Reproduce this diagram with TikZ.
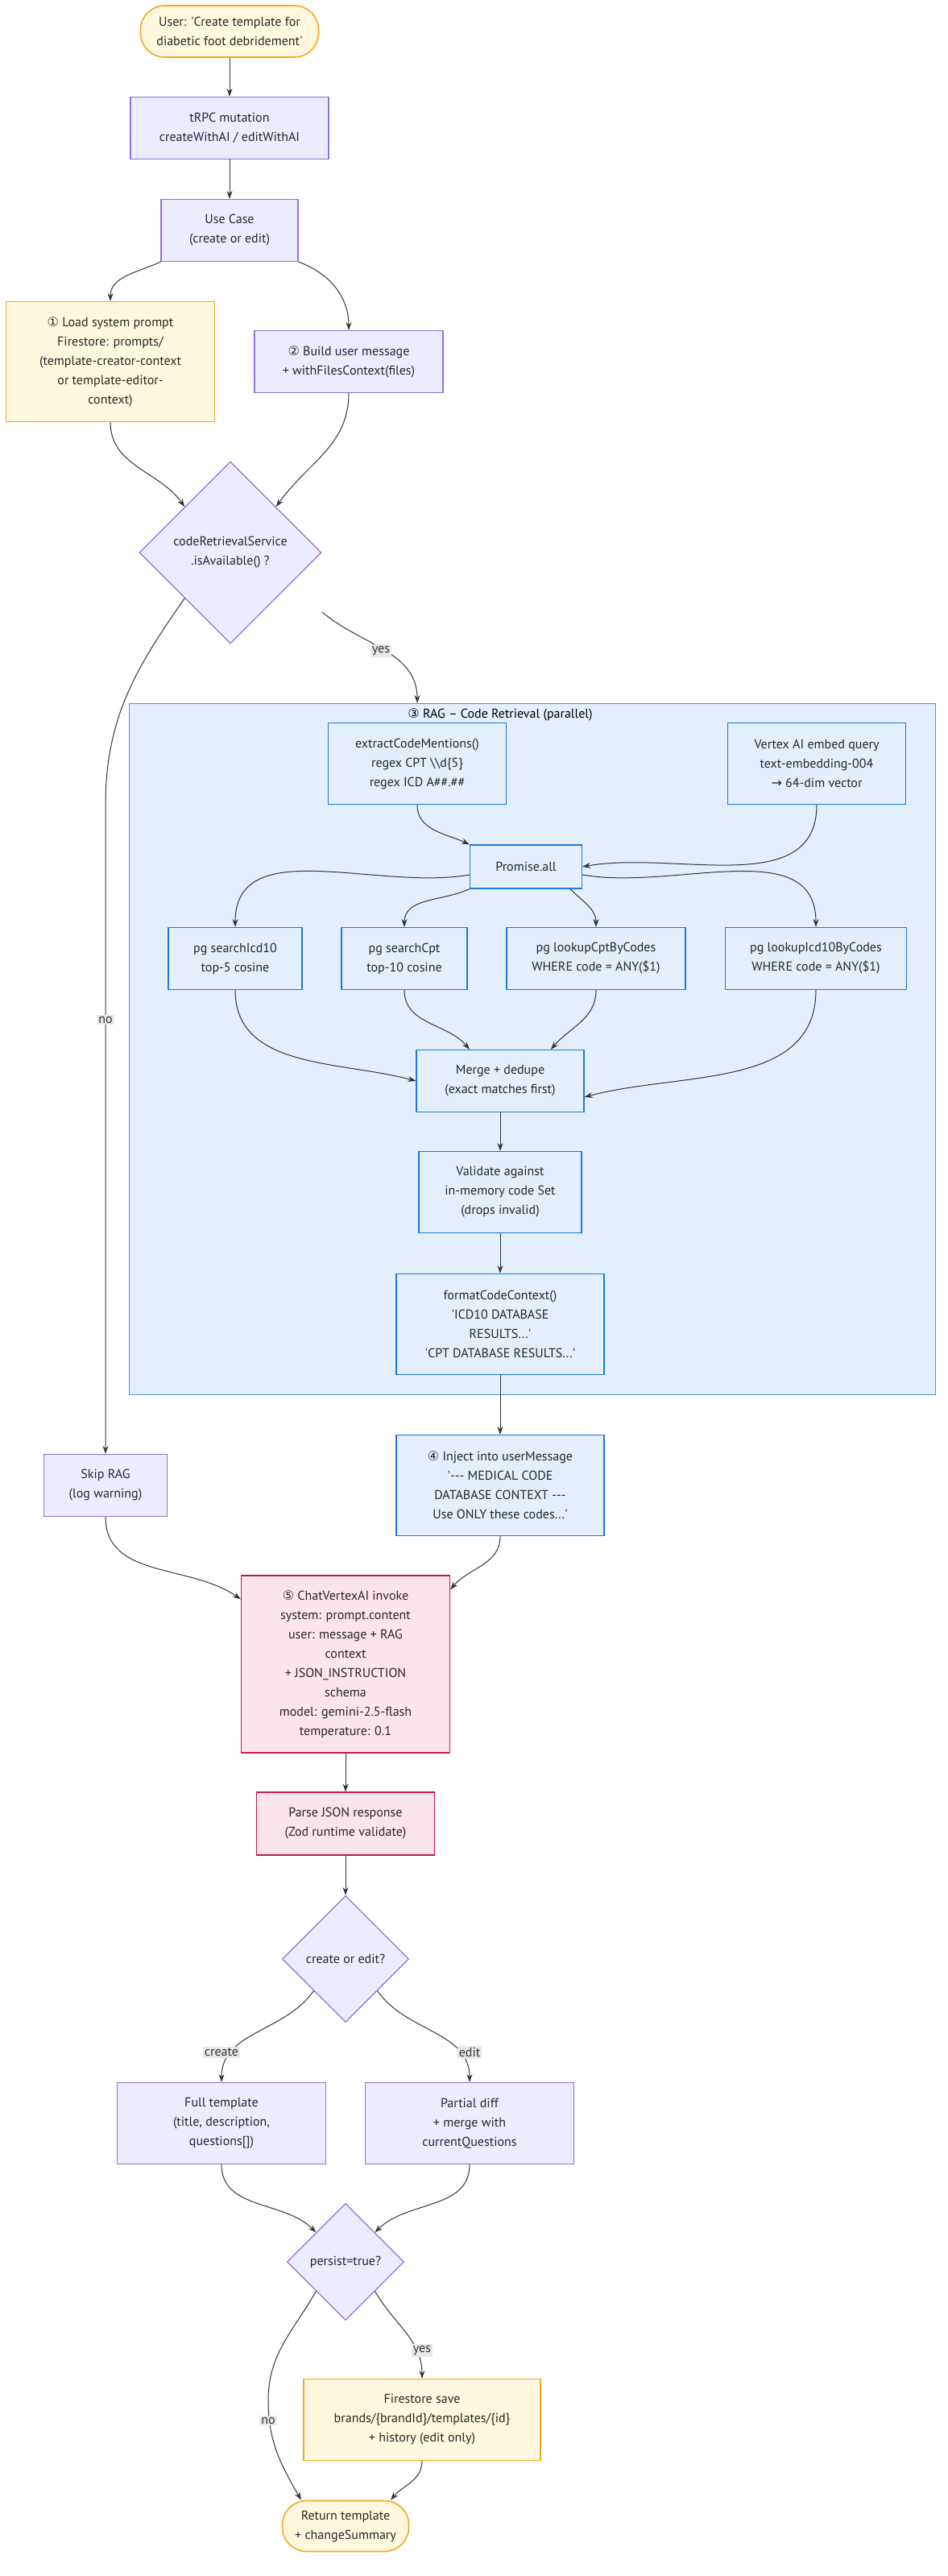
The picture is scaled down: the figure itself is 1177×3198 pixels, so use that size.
\documentclass[tikz,border=0pt]{standalone}
\usepackage{fontspec}
\setmainfont{PT Sans}
\newfontfamily\sym{DejaVu Sans}
\usetikzlibrary{shapes.geometric,arrows.meta}
\definecolor{pfill}{HTML}{ECECFF}\definecolor{pline}{HTML}{9370DB}
\definecolor{yfill}{HTML}{FFF8DE}\definecolor{yline}{HTML}{F5A623}
\definecolor{bfill}{HTML}{E3F0FC}\definecolor{bline}{HTML}{1E78D8}
\definecolor{kfill}{HTML}{FCE4EC}\definecolor{kline}{HTML}{C2185B}
\definecolor{lfill}{HTML}{E8E8E8}\definecolor{ecol}{HTML}{333333}
\newcommand{\q}{\textquotesingle}
\tikzset{
 base/.style={draw,line width=1.2pt,align=center,inner sep=0pt,font=\fontsize{16}{24}\selectfont,text=black!85},
 purp/.style={base,fill=pfill,draw=pline},
 yel/.style={base,fill=yfill,draw=yline},
 blu/.style={base,fill=bfill,draw=bline},
 pink/.style={base,fill=kfill,draw=kline},
 dia/.style={purp,diamond,aspect=1},
 term/.style={yel,rounded corners=30pt,line width=1.6pt},
 lbl/.style={fill=lfill,inner sep=2pt,font=\fontsize{16}{20}\selectfont,text=black!80},
 arr/.style={draw=ecol,line width=1pt,-{Stealth[length=10pt,width=7pt]}},
}
\begin{document}
\begin{tikzpicture}[x=1pt,y=-1pt]
\useasboundingbox (0,0) rectangle (1177,3198);
% cluster
\node[blu,draw=bline!80,fill=bfill,minimum width=1001,minimum height=858,anchor=north west] (cl) at (160,873) {};
\node[font=\fontsize{16}{20}\selectfont,anchor=center] (clt) at (621,887) {{\sym ③} RAG -- Code Retrieval (parallel)};
% nodes
\node[term,minimum width=221,minimum height=64] (user) at (285,39) {User: \q Create template for\\diabetic foot debridement\q};
\node[purp,minimum width=246,minimum height=77] (trpc) at (285,159) {tRPC mutation\\createWithAI / editWithAI};
\node[purp,minimum width=170,minimum height=77] (uc) at (285,286) {Use Case\\(create or edit)};
\node[yel,minimum width=259,minimum height=149] (load) at (137,449) {{\sym ①} Load system prompt\\Firestore: prompts/\\(template-creator-context\\or template-editor-\\context)};
\node[purp,minimum width=234,minimum height=77] (build) at (433,449) {{\sym ②} Build user message\\+ withFilesContext(files)};
\node[dia,minimum width=226,minimum height=226] (d1) at (286,686) {codeRetrievalService\\.isAvailable() ?};
\node[blu,minimum width=221,minimum height=101] (ext) at (518,948) {extractCodeMentions()\\regex CPT \textbackslash\textbackslash d\{5\}\\regex ICD A\#\#.\#\#};
\node[blu,minimum width=221,minimum height=101] (vtx) at (1014,948) {Vertex AI embed query\\text-embedding-004\\{\sym →} 64-dim vector};
\node[blu,minimum width=139,minimum height=54] (prom) at (653,1076) {Promise.all};
\node[blu,minimum width=166,minimum height=77] (p1) at (292,1190) {pg searchIcd10\\top-5 cosine};
\node[blu,minimum width=156,minimum height=77] (p2) at (502,1190) {pg searchCpt\\top-10 cosine};
\node[blu,minimum width=222,minimum height=77] (p3) at (740,1190) {pg lookupCptByCodes\\WHERE code = ANY(\$1)};
\node[blu,minimum width=225,minimum height=77] (p4) at (1013,1190) {pg lookupIcd10ByCodes\\WHERE code = ANY(\$1)};
\node[blu,minimum width=208,minimum height=77] (mrg) at (621,1342) {Merge + dedupe\\(exact matches first)};
\node[blu,minimum width=202,minimum height=101] (val) at (621,1480) {Validate against\\in-memory code Set\\(drops invalid)};
\node[blu,minimum width=258,minimum height=125] (fmt) at (621,1644) {formatCodeContext()\\\q ICD10 DATABASE\\RESULTS...\q\\\q CPT DATABASE RESULTS...\q};
\node[purp,minimum width=153,minimum height=77] (skip) at (131,1844) {Skip RAG\\(log warning)};
\node[blu,minimum width=258,minimum height=125] (inj) at (621,1844) {{\sym ④} Inject into userMessage\\\q -{}-{}- MEDICAL CODE\\DATABASE CONTEXT -{}-{}-\\Use ONLY these codes...\q};
\node[pink,minimum width=259,minimum height=220] (chat) at (429,2066) {{\sym ⑤} ChatVertexAI invoke\\system: prompt.content\\user: message + RAG\\context\\+ JSON\_INSTRUCTION\\schema\\model: gemini-2.5-flash\\temperature: 0.1};
\node[pink,minimum width=221,minimum height=78] (parse) at (429,2264) {Parse JSON response\\(Zod runtime validate)};
\node[dia,minimum width=157,minimum height=157] (d2) at (429,2432) {create or edit?};
\node[purp,minimum width=259,minimum height=101] (full) at (275,2636) {Full template\\(title, description,\\questions[])};
\node[purp,minimum width=259,minimum height=101] (part) at (583,2636) {Partial diff\\+ merge with\\currentQuestions};
\node[dia,minimum width=145,minimum height=145] (d3) at (429,2808) {persist=true?};
\node[yel,minimum width=294,minimum height=101] (fs) at (524,3004) {Firestore save\\brands/\{brandId\}/templates/\{id\}\\+ history (edit only)};
\node[term,minimum width=157,minimum height=63] (ret) at (429,3136) {Return template\\+ changeSummary};
\coordinate (yesin) at (518,873);
% edges
\draw[arr] (user) -- (trpc);
\draw[arr] (trpc) -- (uc);
\draw[arr] (uc.south west) to[out=205,in=90] (load.north);
\draw[arr] (uc.south east) to[out=-20,in=90] (build.north);
\draw[arr] (load.south) to[out=-90,in=125] (d1.north west);
\draw[arr] (build.south) to[out=-90,in=55] (d1.north east);
\draw[arr] (d1.south east) ++(57,17) to[out=-40,in=90] (yesin);
\draw[arr] (d1.south west) to[out=235,in=90] (131,1000) -- (skip.north);
\draw[arr] (ext.south) to[out=-90,in=155] (prom.north west);
\draw[arr] (vtx.south) to[out=-90,in=10] (prom.east);
\draw[arr] (prom.west) ++(0,10) to[out=190,in=90] (p1.north);
\draw[arr] (prom.south west) to[out=205,in=90] (p2.north);
\draw[arr] (prom.south) ++(55,0) to[out=-45,in=90] (p3.north);
\draw[arr] (prom.east) ++(0,10) to[out=-10,in=90] (p4.north);
\draw[arr] (p1.south) to[out=-90,in=165] (mrg.west);
\draw[arr] (p2.south) to[out=-90,in=130] ([xshift=-38]mrg.north);
\draw[arr] (p3.south) to[out=-90,in=50] ([xshift=63]mrg.north);
\draw[arr] (p4.south) to[out=-90,in=15] ([yshift=-20]mrg.east);
\draw[arr] (mrg) -- (val);
\draw[arr] (val) -- (fmt);
\draw[arr] (fmt) -- (inj);
\draw[arr] (skip.south) to[out=-90,in=145] ([yshift=-30]chat.north west);
\draw[arr] (inj.south) to[out=-90,in=50] ([yshift=-18]chat.north east);
\draw[arr] (chat) -- (parse);
\draw[arr] (parse) -- (d2);
\draw[arr] (d2.south west) to[out=235,in=90] (full.north);
\draw[arr] (d2.south east) to[out=-55,in=90] (part.north);
\draw[arr] (full.south) to[out=-90,in=135] (d3.north west);
\draw[arr] (part.south) to[out=-90,in=45] (d3.north east);
\draw[arr] (d3.south east) to[out=-60,in=90] (fs.north);
\draw[arr] (d3.south west) to[out=240,in=90] (333,2980) to[out=-90,in=120] ([xshift=-55]ret.north);
\draw[arr] (fs.south) to[out=-90,in=50] ([xshift=56]ret.north);
% labels
\node[lbl] (ly1) at (473,808) {yes};
\node[lbl] (ln1) at (131,1266) {no};
\node[lbl] (lc) at (275,2548) {create};
\node[lbl] (le) at (583,2548) {edit};
\node[lbl] (ly2) at (524,2918) {yes};
\node[lbl] (ln2) at (333,3005) {no};
\end{tikzpicture}
\end{document}
